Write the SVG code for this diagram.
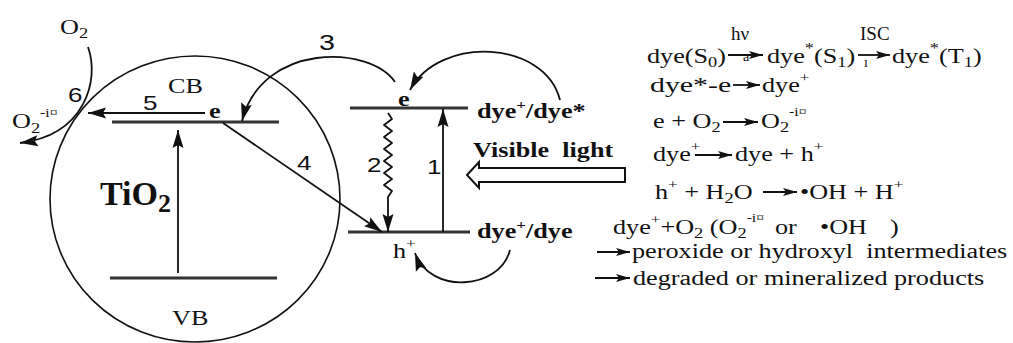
<svg xmlns="http://www.w3.org/2000/svg" width="1013" height="343" viewBox="0 0 1013 343">
<style>
text{fill:#111}
.s{font-family:"Liberation Serif","Times New Roman",serif;font-size:20px}
.b{font-weight:bold}
.n{font-family:"Liberation Sans",Arial,sans-serif;font-size:20px}
.lab{font-size:19px}
.tiny{font-size:14px}
.big{font-size:34px}
.ln{stroke:#111;stroke-width:1.8;fill:none}
.lv{stroke:#333;stroke-width:3}
.ar{marker-end:url(#ah)}
.sa{marker-end:url(#sh)}
</style>
<defs>
<marker id="ah" markerUnits="userSpaceOnUse" markerWidth="20" markerHeight="12" refX="18" refY="5.5" orient="auto" overflow="visible"><path d="M0,0 L18,5.5 L0,11 L3,5.5 z" fill="#111"/></marker>
<marker id="sh" markerUnits="userSpaceOnUse" markerWidth="15" markerHeight="9" refX="14" refY="4" orient="auto" overflow="visible"><path d="M0,0 L14,4 L0,8 L3,4 z" fill="#111"/></marker>
</defs>
<rect width="1013" height="343" fill="#fff"/>

<g id="tio2">
<ellipse cx="195" cy="199" rx="145" ry="143" fill="none" stroke="#111" stroke-width="1.6"/>
<line class="lv" x1="112" y1="122" x2="279" y2="122"/>
<line class="lv" x1="110" y1="278" x2="277" y2="278"/>
<text class="s" transform="translate(168,93) scale(1.31,1)">CB</text>
<text class="s" transform="translate(172,325) scale(1.31,1)">VB</text>
<text class="s b" transform="translate(209,118) scale(1.31,1)">e</text>
<text class="s b big" x="100" y="205">TiO<tspan style="font-size:26px" dy="7">2</tspan></text>
</g>

<g id="oxygen">
<text class="s" transform="translate(60,34) scale(1.31,1)">O<tspan style="font-size:14px" dy="4">2</tspan></text>
<text class="s" transform="translate(12,128) scale(1.31,1)">O<tspan style="font-size:14px" dy="5">2</tspan><tspan style="font-size:12px" dy="-16">-i¤</tspan></text>
</g>

<g id="dye-levels">
<line class="lv" x1="350" y1="108" x2="468" y2="108" stroke-width="2.5"/>
<line class="lv" x1="348" y1="232" x2="470" y2="232" stroke-width="2.5"/>
<text class="s b" transform="translate(398,106) scale(1.31,1)">e</text>
<text class="s" transform="translate(393,258) scale(1.31,1)">h<tspan style="font-size:13px" dy="-10">+</tspan></text>
<text class="s b" transform="translate(477,118) scale(1.31,1)">dye<tspan style="font-size:13px" dy="-9">+</tspan><tspan dy="9">/dye*</tspan></text>
<text class="s b" transform="translate(477,238) scale(1.31,1)">dye<tspan style="font-size:13px" dy="-9">+</tspan><tspan dy="9">/dye</tspan></text>
</g>

<g id="visible-light">
<text class="s b" xml:space="preserve" transform="translate(473,157) scale(1.31,1)">Visible  light</text>
<polygon points="467,175 479,162 479,168 625,168 625,182 479,182 479,188" fill="#fff" stroke="#111" stroke-width="2"/>
</g>

<g id="connectors">
<line class="ln ar" x1="178" y1="273" x2="178" y2="130"/>
<line class="ln ar" x1="205" y1="113" x2="88" y2="113"/>
<path class="ln ar" d="M88,47 C100,80 85,135 20,143"/>
<path class="ln ar" d="M395,82 C370,45 262,42 242,121"/>
<line class="ln ar" x1="223" y1="123" x2="382" y2="232"/>
<line class="ln ar" x1="443" y1="232" x2="443" y2="109"/>
<path class="ln ar" d="M388,113 L392,119 L384,125 L392,131 L384,137 L392,143 L384,149 L392,155 L384,161 L392,167 L384,173 L392,179 L384,185 L392,191 L388,197 L388,232" stroke-width="1.4" stroke-linejoin="round"/>
<path class="ln ar" d="M560,100 C545,40 440,35 410,90"/>
<path class="ln ar" d="M510,250 C500,290 430,295 415,253"/>
<line class="ln sa" x1="728" y1="55" x2="763" y2="55"/>
<line class="ln sa" x1="858" y1="55" x2="890" y2="55"/>
<line class="ln sa" x1="733" y1="85" x2="760" y2="85"/>
<line class="ln sa" x1="723" y1="122" x2="758" y2="122"/>
<line class="ln sa" x1="695" y1="155" x2="732" y2="155"/>
<line class="ln sa" x1="763" y1="192" x2="797" y2="192"/>
<line class="ln sa" x1="597" y1="252" x2="630" y2="252"/>
<line class="ln sa" x1="595" y1="278" x2="630" y2="278"/>
</g>

<g id="step-labels">
<text class="n" transform="translate(68,102) scale(1.3,1)">6</text>
<text class="n" transform="translate(143,110) scale(1.3,1)">5</text>
<text class="n" transform="translate(319,50) scale(1.3,1)" style="font-size:22px">3</text>
<text class="n" transform="translate(297,170) scale(1.3,1)">4</text>
<text class="n" transform="translate(367,172) scale(1.3,1)">2</text>
<text class="n" transform="translate(427,174) scale(1.3,1)">1</text>
</g>

<g id="reactions">
<text class="s" transform="translate(647,63) scale(1.31,1)">dye(S<tspan style="font-size:14px" dy="4">0</tspan><tspan dy="-4">)</tspan></text>
<text class="s lab" x="731" y="40">hν</text>
<text class="s tiny" x="743" y="61">a</text>
<text class="s" transform="translate(767,63) scale(1.31,1)">dye<tspan style="font-size:14px" dy="-10">*</tspan><tspan dy="10">(S</tspan><tspan style="font-size:14px" dy="4">1</tspan><tspan dy="-4">)</tspan></text>
<text class="s lab" x="860" y="40">ISC</text>
<text class="s tiny" x="864" y="67">ı</text>
<text class="s" transform="translate(892,63) scale(1.31,1)">dye<tspan style="font-size:14px" dy="-10">*</tspan><tspan dy="10">(T</tspan><tspan style="font-size:14px" dy="4">1</tspan><tspan dy="-4">)</tspan></text>

<text class="s" transform="translate(650,92) scale(1.31,1)" textLength="62" lengthAdjust="spacingAndGlyphs">dye*-e</text>
<text class="s" transform="translate(762,92) scale(1.31,1)">dye<tspan style="font-size:13px" dy="-10">+</tspan></text>

<text class="s" transform="translate(653,128) scale(1.31,1)">e + O<tspan style="font-size:14px" dy="4">2</tspan></text>
<text class="s" transform="translate(761,128) scale(1.31,1)">O<tspan style="font-size:14px" dy="4">2</tspan><tspan style="font-size:12px" dy="-16">-i¤</tspan></text>

<text class="s" transform="translate(653,161) scale(1.31,1)">dye<tspan style="font-size:13px" dy="-10">+</tspan></text>
<text class="s" transform="translate(735,161) scale(1.31,1)">dye + h<tspan style="font-size:13px" dy="-10">+</tspan></text>

<text class="s" transform="translate(655,199) scale(1.31,1)">h<tspan style="font-size:13px" dy="-10">+</tspan><tspan dy="10"> + H</tspan><tspan style="font-size:14px" dy="4">2</tspan><tspan dy="-4">O</tspan></text>
<text class="s" transform="translate(800,199) scale(1.31,1)">•OH + H<tspan style="font-size:13px" dy="-10">+</tspan></text>

<text class="s" transform="translate(613,234) scale(1.31,1)">dye<tspan style="font-size:13px" dy="-10">+</tspan><tspan dy="10">+O</tspan><tspan style="font-size:14px" dy="4">2</tspan><tspan dy="-4"> (O</tspan><tspan style="font-size:14px" dy="4">2</tspan><tspan style="font-size:12px" dy="-16">-i¤</tspan></text>
<text class="s" transform="translate(775,234) scale(1.31,1)">or</text>
<text class="s" transform="translate(820,234) scale(1.31,1)">•OH</text>
<text class="s" transform="translate(890,234) scale(1.31,1)">)</text>

<text class="s" xml:space="preserve" transform="translate(632,258) scale(1.31,1)">peroxide or hydroxyl  intermediates</text>
<text class="s" transform="translate(633,285) scale(1.31,1)">degraded or mineralized products</text>
</g>
</svg>
